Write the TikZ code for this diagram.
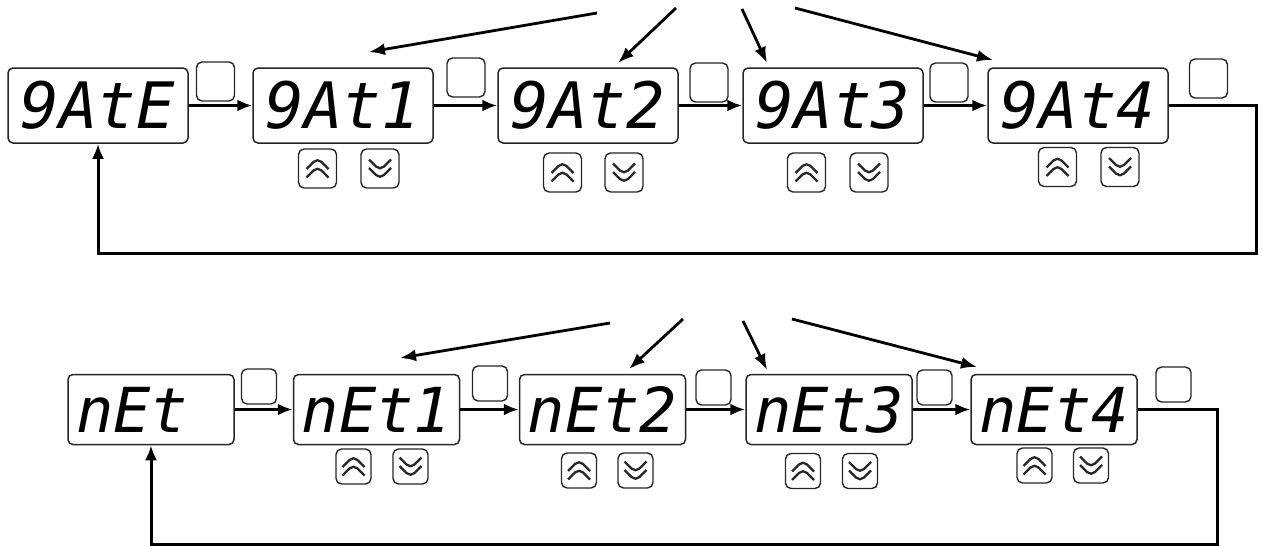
\documentclass[tikz,border=0pt]{standalone}
\usepackage{fontspec}
\newfontfamily\segfont{DejaVu Sans Mono}
\usetikzlibrary{arrows.meta}
\begin{document}
\begin{tikzpicture}[x=1pt,y=-1pt,
  disp/.style={draw=black!85, line width=1.5pt, rounded corners=5pt, fill=white,
    minimum width=180pt, minimum height=75pt, inner sep=0pt,
    font=\segfont\itshape\fontsize{64pt}{64pt}\selectfont},
  sdisp/.style={disp, minimum width=166pt, minimum height=70pt,
    font=\segfont\itshape\fontsize{62pt}{62pt}\selectfont},
  btn/.style={draw=black!85, line width=1.4pt, rounded corners=5.5pt,
    minimum width=38pt, minimum height=39pt, inner sep=0pt},
  sbtn/.style={btn, minimum width=35pt, minimum height=35pt},
  upkey/.style={path picture={
    \draw[line width=2.3pt] ([shift={(-11pt,-0.5pt)}]path picture bounding box.center) -- ++(11pt,11pt) -- ++(11pt,-11pt);
    \draw[line width=2.3pt] ([shift={(-11pt,-9pt)}]path picture bounding box.center) -- ++(11pt,11pt) -- ++(11pt,-11pt);}},
  dnkey/.style={path picture={
    \draw[line width=2.3pt] ([shift={(-11pt,9pt)}]path picture bounding box.center) -- ++(11pt,-11pt) -- ++(11pt,11pt);
    \draw[line width=2.3pt] ([shift={(-11pt,0.5pt)}]path picture bounding box.center) -- ++(11pt,-11pt) -- ++(11pt,11pt);}},
  flow/.style={line width=3.2pt, -{Latex[length=15pt,width=12pt]}},
  ret/.style={line width=3pt, -{Latex[length=15pt,width=12pt]}},
  pointer/.style={line width=2.8pt, -{Latex[length=16pt,width=12pt]}}
]
\useasboundingbox (0,0) rectangle (1262,546);

% ---------------- top row ----------------
\node[disp] (gate) at (98,105.5) {9AtE};
\node[disp] (g1) at (343,105.5) {9At1};
\node[disp] (g2) at (588,105.5) {9At2};
\node[disp] (g3) at (833,105.5) {9At3};
\node[disp] (g4) at (1078,105.5) {9At4};

\node[btn] (s0) at (215.5,81.5) {};
\node[btn] (s1) at (466,77.5) {};
\node[btn] (s2) at (709,82.5) {};
\node[btn] (s3) at (949,82.5) {};
\node[btn] (s4) at (1208.5,78.5) {};

\node[btn,upkey] (u1) at (317.5,168.5) {};
\node[btn,dnkey] (d1) at (380,168.5) {};
\node[btn,upkey] (u2) at (562.5,172.5) {};
\node[btn,dnkey] (d2) at (624,172.5) {};
\node[btn,upkey] (u3) at (806.5,172.5) {};
\node[btn,dnkey] (d3) at (869,172.5) {};
\node[btn,upkey] (u4) at (1057.5,167) {};
\node[btn,dnkey] (d4) at (1120,167) {};

\draw[flow] (gate) -- (g1);
\draw[flow] (g1) -- (g2);
\draw[flow] (g2) -- (g3);
\draw[flow] (g3) -- (g4);
\coordinate (rt) at (1256,253);
\draw[ret] (g4.east) -| (rt) -| (gate.south);

\coordinate (ta1) at (597,13);  \coordinate (ha1) at (369,52);
\coordinate (ta2) at (676,8);   \coordinate (ha2) at (618,63);
\coordinate (ta3) at (742,9);   \coordinate (ha3) at (767,63);
\coordinate (ta4) at (795,8);   \coordinate (ha4) at (993,60);
\draw[pointer] (ta1) -- (ha1);
\draw[pointer] (ta2) -- (ha2);
\draw[pointer] (ta3) -- (ha3);
\draw[pointer] (ta4) -- (ha4);

% ---------------- bottom row ----------------
\node[sdisp] (net) at (151,409.5) {nEt\phantom{1}};
\node[sdisp] (n1) at (376.5,409.5) {nEt1};
\node[sdisp] (n2) at (602.5,409.5) {nEt2};
\node[sdisp] (n3) at (829,409.5) {nEt3};
\node[sdisp] (n4) at (1054,409.5) {nEt4};

\node[sbtn] (b0) at (259,386.5) {};
\node[sbtn] (b1) at (490,383.5) {};
\node[sbtn] (b2) at (713.5,387.5) {};
\node[sbtn] (b3) at (934.5,387.5) {};
\node[sbtn] (b4) at (1173.5,384.5) {};

\node[sbtn,upkey] (nu1) at (353.5,466.5) {};
\node[sbtn,dnkey] (nd1) at (410.5,466.5) {};
\node[sbtn,upkey] (nu2) at (579,470.5) {};
\node[sbtn,dnkey] (nd2) at (635.5,470.5) {};
\node[sbtn,upkey] (nu3) at (803,471) {};
\node[sbtn,dnkey] (nd3) at (860,471) {};
\node[sbtn,upkey] (nu4) at (1034.5,465.5) {};
\node[sbtn,dnkey] (nd4) at (1091,465.5) {};

\draw[flow] (net) -- (n1);
\draw[flow] (n1) -- (n2);
\draw[flow] (n2) -- (n3);
\draw[flow] (n3) -- (n4);
\coordinate (rb) at (1217,544);
\draw[ret] (n4.east) -| (rb) -| (net.south);

\coordinate (tb1) at (610,323); \coordinate (hb1) at (400,358);
\coordinate (tb2) at (683,319); \coordinate (hb2) at (629,369);
\coordinate (tb3) at (743,321); \coordinate (hb3) at (767,370);
\coordinate (tb4) at (792,319); \coordinate (hb4) at (977,367);
\draw[pointer] (tb1) -- (hb1);
\draw[pointer] (tb2) -- (hb2);
\draw[pointer] (tb3) -- (hb3);
\draw[pointer] (tb4) -- (hb4);
\end{tikzpicture}
\end{document}
